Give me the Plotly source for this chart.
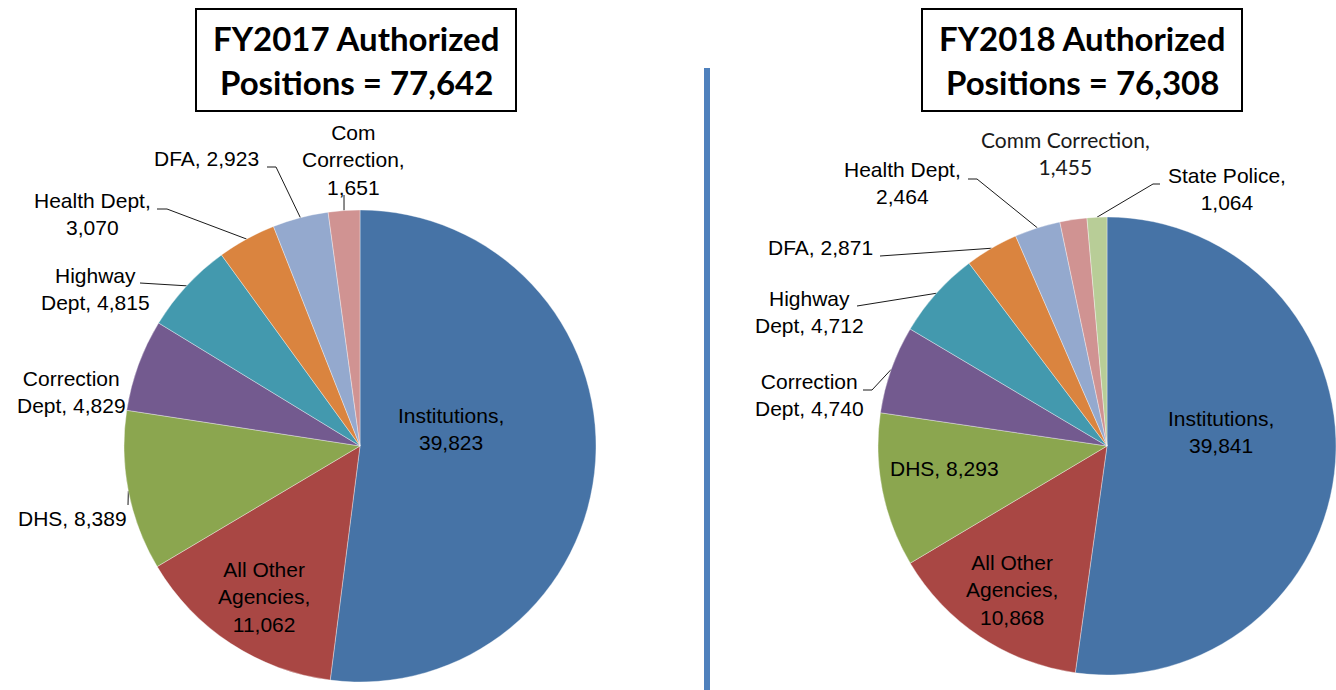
import math
import plotly.graph_objects as go

# ---------------- data ----------------
fy17_title = ["FY2017 Authorized", "Positions = 77,642"]
fy17_labels = ["Institutions", "All Other Agencies", "DHS", "Correction Dept",
               "Highway Dept", "Health Dept", "DFA", "Com Correction"]
fy17_values = [39823, 11062, 8389, 4829, 4815, 3070, 2923, 1651]
fy17_label_lines = [["Institutions,", "{v}"], ["All Other", "Agencies,", "{v}"],
                    ["DHS, {v}"], ["Correction", "Dept, {v}"], ["Highway", "Dept, {v}"],
                    ["Health Dept,", "{v}"], ["DFA, {v}"], ["Com", "Correction,", "{v}"]]

fy18_title = ["FY2018 Authorized", "Positions = 76,308"]
fy18_labels = ["Institutions", "All Other Agencies", "DHS", "Correction Dept",
               "Highway Dept", "DFA", "Health Dept", "Comm Correction", "State Police"]
fy18_values = [39841, 10868, 8293, 4740, 4712, 2871, 2464, 1455, 1064]
fy18_label_lines = [["Institutions,", "{v}"], ["All Other", "Agencies,", "{v}"],
                    ["DHS, {v}"], ["Correction", "Dept, {v}"], ["Highway", "Dept, {v}"],
                    ["DFA, {v}"], ["Health Dept,", "{v}"], ["Comm Correction,", "{v}"],
                    ["State Police,", "{v}"]]

slice_colors = ["#4673A6", "#A94744", "#8BA64F", "#735A8F", "#4399AE",
                "#DA843F", "#94A9CE", "#D09392", "#B8CD97"]

# ---------------- layout (pixels) ----------------
W, H = 1336, 690
LABEL_FONT = "Liberation Sans, Arial, sans-serif"
LABEL_SIZE = 21

left_cfg = dict(
    cx=360, cy=446, r=236, box=(196, 9, 516, 111), title_y=(38, 82),
    # per slice: (text center x, label center y, anchor, leader start points or None)
    labels=[
        (451, 429, "center", None),
        (264, 597, "center", None),
        (129, 518, "right", [(128, 505)]),
        (71, 392, "center", None),
        (95, 289, "center", [(140, 283)]),
        (92, 214, "center", [(157, 209), (167, 209)]),
        (206, 158, "center", [(267, 167), (276, 167)]),
        (353, 160, "center", [(344, 195)]),
    ],
)
right_cfg = dict(
    cx=1107, cy=446, r=229, box=(922, 9, 1242, 111), title_y=(38, 82),
    labels=[
        (1221, 432, "center", None),
        (1012, 590, "center", None),
        (944, 468, "center", None),
        (809, 395, "center", [(863, 390), (872, 390)]),
        (809, 312, "center", [(857, 306)]),
        (820, 247, "center", [(880, 256)]),
        (902, 183, "center", [(968, 179), (977, 179)]),
        (1065, 153, "center", None),
        (1227, 189, "center", [(1160, 184), (1153, 184)]),
    ],
)


def edge_point(values, i, cx, cy, r):
    total = sum(values)
    cum = sum(values[:i]) + values[i] / 2.0
    ang = 2 * math.pi * cum / total
    return cx + r * math.sin(ang), cy - r * math.cos(ang)


fig = go.Figure()
annotations = []
shapes = []


def add_chart(labels, values, lines_tpl, title, cfg, special_font=None):
    cx, cy, r = cfg["cx"], cfg["cy"], cfg["r"]
    dx0, dx1 = max(0.0, (cx - r) / W), min(1.0, (cx + r) / W)
    dy0, dy1 = max(0.0, 1 - (cy + r) / H), min(1.0, 1 - (cy - r) / H)
    fig.add_trace(go.Pie(
        labels=labels, values=values, sort=False, direction="clockwise", rotation=0,
        marker=dict(colors=slice_colors[:len(values)], line=dict(color="rgba(255,255,255,0.6)", width=0.6)),
        textinfo="none", hoverinfo="label+value", showlegend=False,
        domain=dict(x=[dx0, dx1], y=[dy0, dy1]),
    ))
    for i, (tx, ty, anchor, leader) in enumerate(cfg["labels"]):
        v = f"{values[i]:,}"
        font = dict(family=LABEL_FONT, size=LABEL_SIZE, color="#000000")
        if special_font is not None and labels[i] == special_font:
            font = dict(family="Lato, sans-serif", size=21, color="#1a1a1a")
        text = "<br>".join(ln.format(v=v) for ln in lines_tpl[i])
        annotations.append(dict(
            x=tx, y=ty, xref="x", yref="y", text=text, showarrow=False,
            xanchor=anchor, yanchor="middle", align="center", font=font))
        if leader:
            ex, ey = edge_point(values, i, cx, cy, r)
            xs = [p[0] for p in leader] + [ex]
            yv = [p[1] for p in leader] + [ey]
            fig.add_trace(go.Scatter(x=xs, y=yv, mode="lines", line=dict(color="#1a1a1a", width=1),
                                     hoverinfo="skip", showlegend=False))
    x0, y0, x1, y1 = cfg["box"]
    shapes.append(dict(type="rect", xref="x", yref="y", x0=x0, y0=y0, x1=x1, y1=y1,
                       line=dict(color="#000000", width=2), fillcolor="rgba(0,0,0,0)"))
    for t, yy in zip(title, cfg["title_y"]):
        annotations.append(dict(
            x=(x0 + x1) / 2, y=yy, xref="x", yref="y", text=f"<b>{t}</b>", showarrow=False,
            xanchor="center", yanchor="middle",
            font=dict(family="Lato, sans-serif", size=33, color="#000000")))


add_chart(fy17_labels, fy17_values, fy17_label_lines, fy17_title, left_cfg)
add_chart(fy18_labels, fy18_values, fy18_label_lines, fy18_title, right_cfg,
          special_font="Comm Correction")

# divider line
shapes.append(dict(type="line", xref="x", yref="y", x0=707, x1=707, y0=68, y1=H,
                   line=dict(color="#4F81BD", width=6)))

fig.update_layout(
    width=W, height=H, margin=dict(l=0, r=0, t=0, b=0),
    paper_bgcolor="white", plot_bgcolor="rgba(0,0,0,0)",
    xaxis=dict(range=[0, W], visible=False, domain=[0, 1], fixedrange=True),
    yaxis=dict(range=[H, 0], visible=False, domain=[0, 1], fixedrange=True),
    annotations=annotations, shapes=shapes,
)

fig.write_html("out.html")
